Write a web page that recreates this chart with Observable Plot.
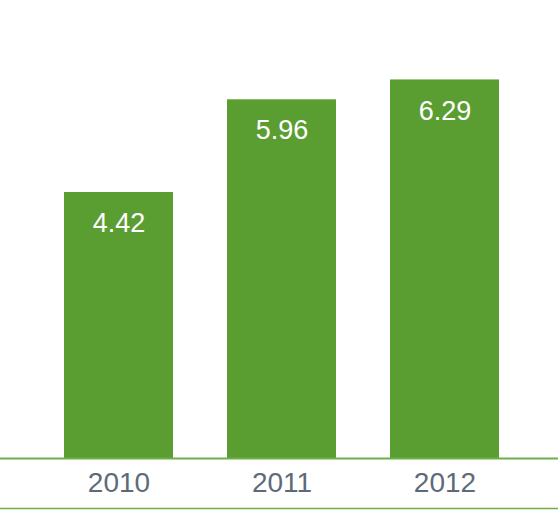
<!DOCTYPE html>
<html>
<head>
<meta charset="utf-8">
<script src="https://cdn.jsdelivr.net/npm/d3@7"></script>
<script src="https://cdn.jsdelivr.net/npm/@observablehq/plot@0.6"></script>
<style>
  html, body { margin: 0; padding: 0; background: #fff; }
  #chart { width: 558px; height: 510px; }
</style>
</head>
<body>
<div id="chart"></div>
<script>
const years = ["2010", "2011", "2012"];
const values = [4.42, 5.96, 6.29];
const labels = ["4.42", "5.96", "6.29"];

const data = years.map((y, i) => ({year: y, value: values[i], label: labels[i]}));

const barColor = "#5a9e32";
const lineColor = "#6aaf48";

const chart = Plot.plot({
  width: 558,
  height: 510,
  marginTop: 0,
  marginBottom: 52,
  marginLeft: 0,
  marginRight: 0,
  style: {fontFamily: "'Liberation Sans', Arial, sans-serif", background: "#fff", overflow: "visible"},
  x: {domain: years, range: [37, 526.5], paddingInner: 0.33, paddingOuter: 0.165, label: null},
  y: {domain: [0, 7.61], axis: null},
  marks: [
    Plot.barY(data, {x: "year", y: "value", fill: barColor}),
    Plot.text(data, {x: "year", y: "value", text: "label", fill: "#fff", fontSize: 27, dy: 31}),
    Plot.ruleY([0], {stroke: lineColor, strokeWidth: 2}),
    Plot.ruleY([0], {stroke: lineColor, strokeWidth: 1.6, dy: 50}),
    Plot.axisX({tickSize: 0, tickPadding: 14, fontSize: 28, color: "#5d6b78", label: null})
  ]
});
document.getElementById("chart").appendChild(chart);
</script>
</body>
</html>
